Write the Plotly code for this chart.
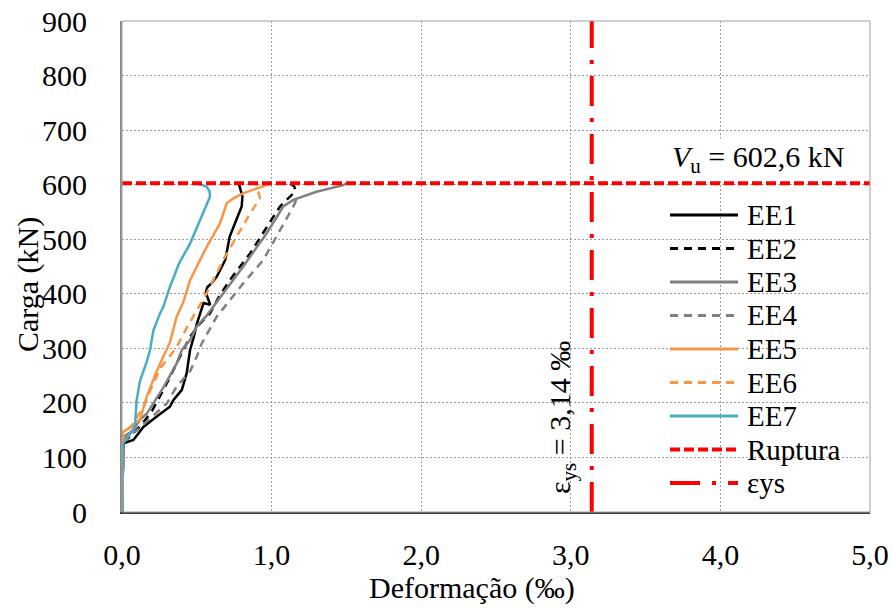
import plotly.graph_objects as go

# Load (kN) versus steel strain (per mille) for each strain gauge
ee1_strain = [0.0, 0.005, 0.01, 0.076, 0.143, 0.232, 0.32, 0.343, 0.4, 0.432, 0.445, 0.455, 0.48, 0.5, 0.52,
              0.545, 0.59, 0.575, 0.56, 0.57, 0.6, 0.633, 0.69, 0.72, 0.755, 0.8, 0.805, 0.79, 0.78]
ee1_load = [0, 100, 126, 132, 156, 175, 193, 205, 224, 254, 279, 297, 321, 345, 362,
            383, 380, 392, 402, 412, 420, 431, 462, 505, 529, 560, 578, 595, 602.6]

ee2_strain = [0.0, 0.005, 0.01, 0.06, 0.13, 0.2, 0.25, 0.3, 0.388, 0.455, 0.52, 0.588, 0.65, 0.72, 0.856,
              0.967, 1.056, 1.134, 1.16, 1.15, 1.12]
ee2_load = [0, 100, 128, 140, 160, 185, 210, 236, 285, 321, 345, 364, 395, 425, 474,
            523, 560, 581, 590, 597, 602.6]

ee3_strain = [0.0, 0.005, 0.01, 0.076, 0.12, 0.165, 0.21, 0.276, 0.365, 0.4, 0.455, 0.5, 0.566, 0.633, 0.81,
              0.967, 1.078, 1.145, 1.3, 1.48, 1.5]
ee3_load = [0, 110, 138, 150, 169, 180, 199, 228, 272, 297, 315, 340, 360, 385, 450,
            511, 560, 572, 587, 599, 602.6]

ee4_strain = [0.0, 0.005, 0.01, 0.1, 0.2, 0.3, 0.365, 0.455, 0.5, 0.533, 0.633, 0.72, 0.81, 0.945, 1.034,
              1.145, 1.17]
ee4_load = [0, 110, 135, 150, 175, 199, 230, 258, 285, 309, 358, 388, 419, 462, 505,
            560, 575]

ee5_strain = [0.0, 0.005, 0.0, 0.05, 0.12, 0.165, 0.22, 0.276, 0.32, 0.365, 0.41, 0.455, 0.51, 0.566, 0.655,
              0.7, 0.744, 0.81, 0.9, 0.967, 1.0]
ee5_load = [0, 90, 145, 155, 169, 211, 250, 285, 310, 358, 385, 425, 456, 486, 529,
            566, 575, 584, 593, 599, 602.6]

ee6_strain = [0.0, 0.005, 0.01, 0.07, 0.143, 0.2, 0.26, 0.36, 0.448, 0.566, 0.677, 0.767, 0.856, 0.922, 0.91,
              0.9]
ee6_load = [0, 120, 140, 160, 193, 230, 265, 300, 345, 401, 462, 505, 547, 575, 590,
            600]

ee7_strain = [0.0, 0.0, 0.005, 0.03, 0.06, 0.087, 0.098, 0.12, 0.145, 0.165, 0.187, 0.21, 0.254, 0.276, 0.321,
              0.38, 0.455, 0.521, 0.57, 0.588, 0.585, 0.566, 0.53, 0.49]
ee7_load = [0, 60, 125, 133, 145, 160, 205, 240, 260, 275, 297, 333, 364, 376, 413,
            455, 492, 535, 565, 578, 588, 596, 600, 602.6]

V_U = 602.6      # failure load (kN)
EPS_YS = 3.14    # yield strain of the stirrups (per mille)

x_ticks = [0, 1, 2, 3, 4, 5]
y_ticks = [0, 100, 200, 300, 400, 500, 600, 700, 800, 900]

ORANGE = "#F79646"
TEAL = "#4BACC6"
GRAY = "#808080"
RED = "#FF0000"
FONT = "Liberation Serif, 'Times New Roman', serif"

series = [
    ("EE1", ee1_strain, ee1_load, "black", "solid"),
    ("EE2", ee2_strain, ee2_load, "black", "8px,6px"),
    ("EE3", ee3_strain, ee3_load, GRAY, "solid"),
    ("EE4", ee4_strain, ee4_load, GRAY, "8px,6px"),
    ("EE5", ee5_strain, ee5_load, ORANGE, "solid"),
    ("EE6", ee6_strain, ee6_load, ORANGE, "8px,6px"),
    ("EE7", ee7_strain, ee7_load, TEAL, "solid"),
]
RUPT_DASH = "10px,4px"
EYS_DASH = "30px,12px,4px,12px"

fig = go.Figure()
for name, xs, ys, color, dash in series:
    fig.add_trace(go.Scatter(x=xs, y=ys, mode="lines", name=name,
                             line=dict(color=color, width=2.5, dash=dash)))

fig.add_trace(go.Scatter(x=[x_ticks[0], x_ticks[-1]], y=[V_U, V_U], mode="lines", name="Ruptura",
                         line=dict(color=RED, width=4, dash=RUPT_DASH)))
fig.add_trace(go.Scatter(x=[EPS_YS, EPS_YS], y=[y_ticks[0], y_ticks[-1]], mode="lines", name="εys",
                         line=dict(color=RED, width=4, dash=EYS_DASH)))

# plot area in pixels
W, H = 893, 608
L, R, T, B = 122, 23, 21, 96
PW, PH = W - L - R, H - T - B


def px(x):
    return (x - L) / PW


def py(y):
    return (H - B - y) / PH


shapes = []
annotations = []

# frame (top/right in light gray)
shapes.append(dict(type="rect", xref="paper", yref="paper", x0=0, x1=1, y0=0, y1=1,
                   line=dict(color="#a0a0a0", width=1), layer="above"))

# legend block drawn by hand
legend_items = [(s[0], s[3], s[4], 3) for s in series] + [("Ruptura", RED, RUPT_DASH, 4), ("εys", RED, EYS_DASH, 4)]
shapes.append(dict(type="rect", xref="paper", yref="paper", x0=px(660), x1=px(857), y0=py(500), y1=py(198),
                   fillcolor="white", line=dict(width=0), layer="between"))
for i, (name, color, dash, w) in enumerate(legend_items):
    yc = 215 + 33.5 * i
    shapes.append(dict(type="line", xref="paper", yref="paper", x0=px(670), x1=px(738), y0=py(yc), y1=py(yc),
                       line=dict(color=color, width=w, dash=dash), layer="above"))
    annotations.append(dict(xref="paper", yref="paper", x=px(745), y=py(yc), text=name, showarrow=False,
                            xanchor="left", yanchor="middle", font=dict(size=29, color="black", family=FONT)))

vu_txt = f"{V_U:.1f}".replace(".", ",")
eys_txt = f"{EPS_YS:.2f}".replace(".", ",")
annotations.append(dict(xref="paper", yref="paper", x=px(758), y=py(159),
                        text=f"<i>V</i><sub>u</sub> = {vu_txt} kN", showarrow=False,
                        xanchor="center", yanchor="middle", bgcolor="white",
                        font=dict(size=30, color="black", family=FONT)))
annotations.append(dict(xref="paper", yref="paper", x=px(562), y=py(418),
                        text=f"ε<sub>ys</sub> = {eys_txt} ‰", showarrow=False, textangle=-90,
                        xanchor="center", yanchor="middle",
                        font=dict(size=30, color="black", family=FONT)))
# axis titles
annotations.append(dict(xref="paper", yref="paper", x=px(28), y=py(285), text="Carga (kN)", showarrow=False,
                        textangle=-90, xanchor="center", yanchor="middle",
                        font=dict(size=30, color="black", family=FONT)))
annotations.append(dict(xref="paper", yref="paper", x=px(472), y=py(588), text="Deformação (‰)", showarrow=False,
                        xanchor="center", yanchor="middle",
                        font=dict(size=30, color="black", family=FONT)))

fig.update_layout(
    width=W, height=H,
    margin=dict(l=L, r=R, t=T, b=B, pad=0, autoexpand=False),
    paper_bgcolor="white", plot_bgcolor="white",
    showlegend=False,
    font=dict(family=FONT, size=30, color="black"),
    shapes=shapes, annotations=annotations,
    xaxis=dict(range=[x_ticks[0], x_ticks[-1]], tickvals=x_ticks,
               ticktext=[f"{v:.1f}".replace(".", ",") for v in x_ticks],
               showgrid=True, gridcolor="#9a9a9a", griddash="2px,2px", gridwidth=1,
               zeroline=False, showline=True, linecolor="#404040", linewidth=2,
               ticks="outside", ticklen=15, tickcolor="rgba(0,0,0,0)", automargin=False,
               tickfont=dict(size=30, family=FONT, color="black")),
    yaxis=dict(range=[y_ticks[0], y_ticks[-1]], tickvals=y_ticks,
               ticktext=[str(v) for v in y_ticks],
               showgrid=True, gridcolor="#9a9a9a", griddash="2px,2px", gridwidth=1,
               zeroline=False, showline=True, linecolor="#8a8a8a", linewidth=2,
               ticks="outside", ticklen=27, tickcolor="rgba(0,0,0,0)", automargin=False,
               tickfont=dict(size=30, family=FONT, color="black")),
)

fig.write_html("out.html")
